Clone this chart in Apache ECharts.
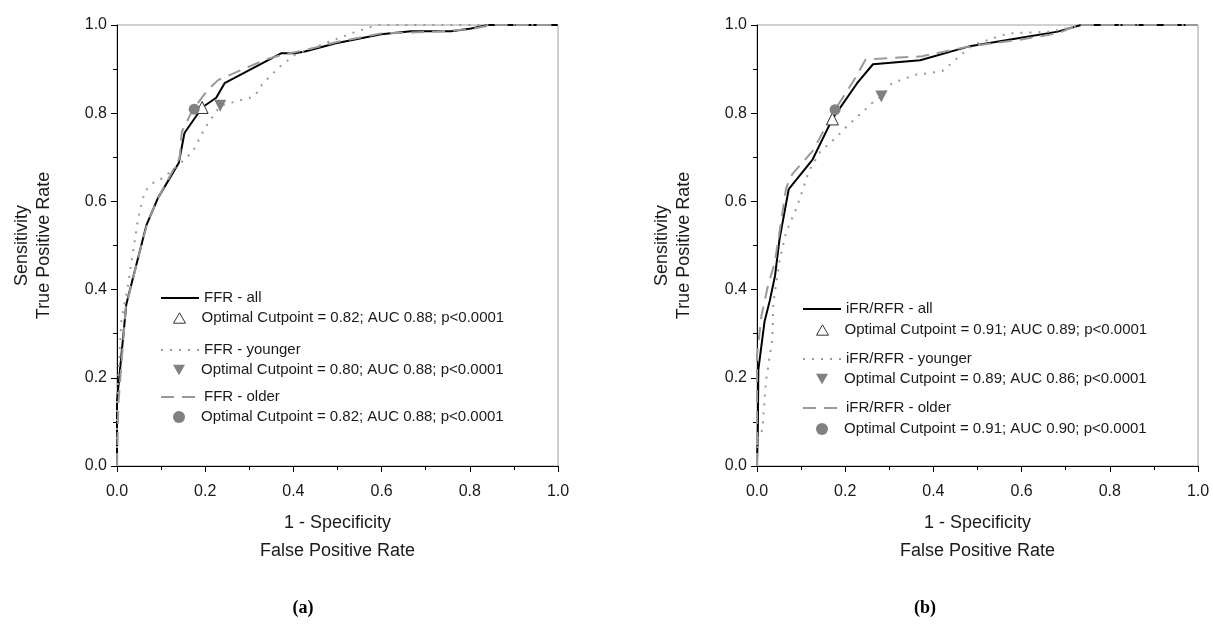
<!DOCTYPE html>
<html>
<head>
<meta charset="utf-8">
<script src="https://cdn.jsdelivr.net/npm/echarts@6.0.0/dist/echarts.min.js"></script>
<style>
html,body{margin:0;padding:0;background:#ffffff;}
#chart{width:1213px;height:628px;}
</style>
</head>
<body>
<div id="chart"></div>
<script>
// ---------------- data ----------------
const tickLabels = ['0.0', '0.2', '0.4', '0.6', '0.8', '1.0'];

// Panel (a): FFR
const ffrAll = [[0,0],[0,0.147],[0.021,0.366],[0.044,0.457],[0.067,0.547],[0.093,0.608],[0.140,0.687],[0.153,0.755],[0.193,0.813],[0.225,0.835],[0.244,0.868],[0.373,0.936],[0.403,0.936],[0.426,0.940],[0.494,0.958],[0.599,0.979],[0.667,0.986],[0.758,0.986],[0.803,0.992],[0.841,1.0],[1.0,1.0]];
const ffrYounger = [[0,0],[0,0.15],[0.010,0.33],[0.025,0.411],[0.048,0.562],[0.063,0.623],[0.082,0.642],[0.104,0.653],[0.140,0.683],[0.172,0.713],[0.199,0.766],[0.234,0.817],[0.312,0.838],[0.328,0.864],[0.365,0.902],[0.403,0.932],[0.463,0.955],[0.531,0.981],[0.577,0.996],[0.592,1.0],[1.0,1.0]];
const ffrOlder = [[0,0],[0.003,0.14],[0.020,0.36],[0.048,0.472],[0.070,0.555],[0.097,0.615],[0.142,0.698],[0.147,0.758],[0.172,0.808],[0.206,0.853],[0.229,0.875],[0.335,0.921],[0.373,0.932],[0.426,0.943],[0.501,0.962],[0.599,0.981],[0.728,0.985],[0.803,0.991],[0.849,1.0],[1.0,1.0]];
const ffrCutAll = [[0.193,0.813]];
const ffrCutYounger = [[0.234,0.817]];
const ffrCutOlder = [[0.175,0.809]];
const ffrNames = ['FFR - all', 'Optimal Cutpoint = 0.82; AUC 0.88; p<0.0001',
                  'FFR - younger', 'Optimal Cutpoint = 0.80; AUC 0.88; p<0.0001',
                  'FFR - older', 'Optimal Cutpoint = 0.82; AUC 0.88; p<0.0001'];

// Panel (b): iFR/RFR
const ifrAll = [[0,0],[0.002,0.09],[0.003,0.218],[0.017,0.327],[0.029,0.375],[0.041,0.432],[0.051,0.514],[0.072,0.628],[0.126,0.695],[0.171,0.787],[0.227,0.868],[0.263,0.911],[0.370,0.920],[0.479,0.951],[0.592,0.970],[0.682,0.985],[0.735,1.0],[1.0,1.0]];
const ifrYounger = [[0,0],[0.003,0.075],[0.012,0.08],[0.020,0.19],[0.035,0.29],[0.037,0.37],[0.052,0.47],[0.066,0.53],[0.090,0.586],[0.118,0.669],[0.144,0.714],[0.171,0.737],[0.208,0.774],[0.261,0.823],[0.282,0.838],[0.306,0.868],[0.359,0.887],[0.420,0.895],[0.460,0.930],[0.490,0.955],[0.569,0.981],[0.667,0.985],[0.720,0.996],[0.735,1.0],[1.0,1.0]];
const ifrOlder = [[0,0],[0,0.25],[0.010,0.34],[0.025,0.41],[0.040,0.46],[0.051,0.53],[0.066,0.63],[0.080,0.662],[0.126,0.714],[0.177,0.808],[0.223,0.880],[0.246,0.921],[0.265,0.923],[0.374,0.929],[0.479,0.951],[0.592,0.966],[0.682,0.981],[0.727,1.0],[1.0,1.0]];
const ifrCutAll = [[0.171,0.787]];
const ifrCutYounger = [[0.282,0.838]];
const ifrCutOlder = [[0.177,0.808]];
const ifrNames = ['iFR/RFR - all', 'Optimal Cutpoint = 0.91; AUC 0.89; p<0.0001',
                  'iFR/RFR - younger', 'Optimal Cutpoint = 0.89; AUC 0.86; p<0.0001',
                  'iFR/RFR - older', 'Optimal Cutpoint = 0.91; AUC 0.90; p<0.0001'];

const yTitle = 'Sensitivity\nTrue Positive Rate';
const xTitle = '1 - Specificity\nFalse Positive Rate';
const captions = ['(a)', '(b)'];

// ---------------- styles ----------------
const FONT = '"Liberation Sans", Arial, sans-serif';
const TXT = '#1a1a1a';
const GRAY = '#999999';
const MGRAY = '#808080';
const solid = {color:'#000000', width:2, type:'solid'};
const dotted = {color:GRAY, width:2, type:[2,7], cap:'butt'};
const dashed = {color:GRAY, width:2, type:[13,8], cap:'butt'};
const triUp = 'path://M5,0L10,8.66L0,8.66Z';
const triDown = 'path://M0,0L10,0L5,8.66Z';
const styleOpen = {color:'#ffffff', borderColor:'#333333', borderWidth:1, opacity:1};
const styleFill = {color:MGRAY, borderColor:MGRAY, borderWidth:0, opacity:1};

const gridLefts = [117, 757];
const PLOT = 441, TOP = 25;

function xAxis(i){
  return {
    type:'value', gridIndex:i, min:0, max:1, interval:0.2,
    axisLine:{show:true, onZero:false, lineStyle:{color:'#000', width:1}},
    axisTick:{show:true, inside:false, length:6, lineStyle:{color:'#000', width:1}},
    minorTick:{show:true, splitNumber:2, length:4, lineStyle:{color:'#000', width:1}},
    splitLine:{show:false}, minorSplitLine:{show:false},
    axisLabel:{margin:18, fontFamily:FONT, fontSize:16, color:TXT,
      formatter:v => tickLabels[Math.round(v/0.2)]}
  };
}
function yAxis(i){
  return {
    type:'value', gridIndex:i, min:0, max:1, interval:0.2,
    axisLine:{show:true, onZero:false, lineStyle:{color:'#000', width:1}},
    axisTick:{show:true, inside:false, length:6, lineStyle:{color:'#000', width:1}},
    minorTick:{show:true, splitNumber:2, length:4, lineStyle:{color:'#000', width:1}},
    splitLine:{show:false}, minorSplitLine:{show:false},
    axisLabel:{margin:10, fontFamily:FONT, fontSize:16, color:TXT,
      formatter:v => tickLabels[Math.round(v/0.2)]}
  };
}
function lineSeries(name, data, ls, i, z){
  return {type:'line', name, data, xAxisIndex:i, yAxisIndex:i, symbol:'none', showSymbol:false,
    lineStyle:ls, itemStyle:{color:ls.color}, z, animation:false, silent:true};
}
function cutSeries(name, data, symbol, rot, size, st, i){
  return {type:'scatter', name, data, xAxisIndex:i, yAxisIndex:i, symbol, symbolRotate:rot,
    symbolSize:size, itemStyle:st, z:10, animation:false, silent:true};
}
function lineLegend(name, left, cy){
  return {show:true, selectedMode:false, left, top:cy-7.5, padding:0,
    itemWidth:38, itemHeight:14,
    data:[{name, itemStyle:{opacity:0}}],
    textStyle:{fontFamily:FONT, fontSize:15, color:TXT}};
}
function markLegend(name, cx, cy, icon, st){
  return {show:true, selectedMode:false, left:cx-6, top:cy-7.5, padding:0,
    itemWidth:12, itemHeight:12, symbolKeepAspect:true,
    data:[{name, icon, itemStyle:st}],
    textStyle:{fontFamily:FONT, fontSize:15, color:TXT, padding:[0,0,0,11]}};
}

const series = [
  lineSeries(ffrNames[0], ffrAll, solid, 0, 3),
  lineSeries(ffrNames[2], ffrYounger, dotted, 0, 4),
  lineSeries(ffrNames[4], ffrOlder, dashed, 0, 5),
  cutSeries(ffrNames[1], ffrCutAll, 'triangle', 0, 12, styleOpen, 0),
  cutSeries(ffrNames[3], ffrCutYounger, 'triangle', 180, 12, styleFill, 0),
  cutSeries(ffrNames[5], ffrCutOlder, 'circle', 0, 11, styleFill, 0),
  lineSeries(ifrNames[0], ifrAll, solid, 1, 3),
  lineSeries(ifrNames[2], ifrYounger, dotted, 1, 4),
  lineSeries(ifrNames[4], ifrOlder, dashed, 1, 5),
  cutSeries(ifrNames[1], ifrCutAll, 'triangle', 0, 12, styleOpen, 1),
  cutSeries(ifrNames[3], ifrCutYounger, 'triangle', 180, 12, styleFill, 1),
  cutSeries(ifrNames[5], ifrCutOlder, 'circle', 0, 11, styleFill, 1)
];

const legendRowsA = [298, 318, 350, 370, 397, 417];
const legendRowsB = [309, 330, 359, 379, 408, 429];
const legends = [
  lineLegend(ffrNames[0], 160, legendRowsA[0]),
  markLegend(ffrNames[1], 179, legendRowsA[1], triUp, styleOpen),
  lineLegend(ffrNames[2], 160, legendRowsA[2]),
  markLegend(ffrNames[3], 179, legendRowsA[3], triDown, styleFill),
  lineLegend(ffrNames[4], 160, legendRowsA[4]),
  markLegend(ffrNames[5], 179, legendRowsA[5], 'circle', styleFill),
  lineLegend(ifrNames[0], 802, legendRowsB[0]),
  markLegend(ifrNames[1], 822, legendRowsB[1], triUp, styleOpen),
  lineLegend(ifrNames[2], 802, legendRowsB[2]),
  markLegend(ifrNames[3], 822, legendRowsB[3], triDown, styleFill),
  lineLegend(ifrNames[4], 802, legendRowsB[4]),
  markLegend(ifrNames[5], 822, legendRowsB[5], 'circle', styleFill)
];

const graphics = [];
gridLefts.forEach((gl, i) => {
  graphics.push({type:'text', x:gl-84, y:TOP+PLOT/2, rotation:Math.PI/2, silent:true,
    style:{text:yTitle, fontFamily:FONT, fontSize:18, lineHeight:22, fill:TXT, align:'center', verticalAlign:'middle'}});
  graphics.push({type:'text', x:gl+PLOT/2, y:537, silent:true,
    style:{text:xTitle, fontFamily:FONT, fontSize:18, lineHeight:28, fill:TXT, align:'center', verticalAlign:'middle'}});
});
graphics.push({type:'text', x:303, y:608, silent:true,
  style:{text:captions[0], fontFamily:'"Liberation Serif", "DejaVu Serif", serif', fontWeight:'bold', fontSize:18, fill:'#000', align:'center', verticalAlign:'middle'}});
graphics.push({type:'text', x:925, y:608, silent:true,
  style:{text:captions[1], fontFamily:'"Liberation Serif", "DejaVu Serif", serif', fontWeight:'bold', fontSize:18, fill:'#000', align:'center', verticalAlign:'middle'}});

const chart = echarts.init(document.getElementById('chart'), null, {renderer:'canvas'});
chart.setOption({
  backgroundColor:'#ffffff',
  animation:false,
  textStyle:{fontFamily:FONT},
  grid: gridLefts.map(gl => ({left:gl, top:TOP, width:PLOT, height:PLOT, show:true,
    borderColor:'#a0a0a0', borderWidth:1, backgroundColor:'transparent', containLabel:false, outerBoundsMode:'none'})),
  xAxis:[xAxis(0), xAxis(1)],
  yAxis:[yAxis(0), yAxis(1)],
  legend: legends,
  series,
  graphic: graphics
});
</script>
</body>
</html>
